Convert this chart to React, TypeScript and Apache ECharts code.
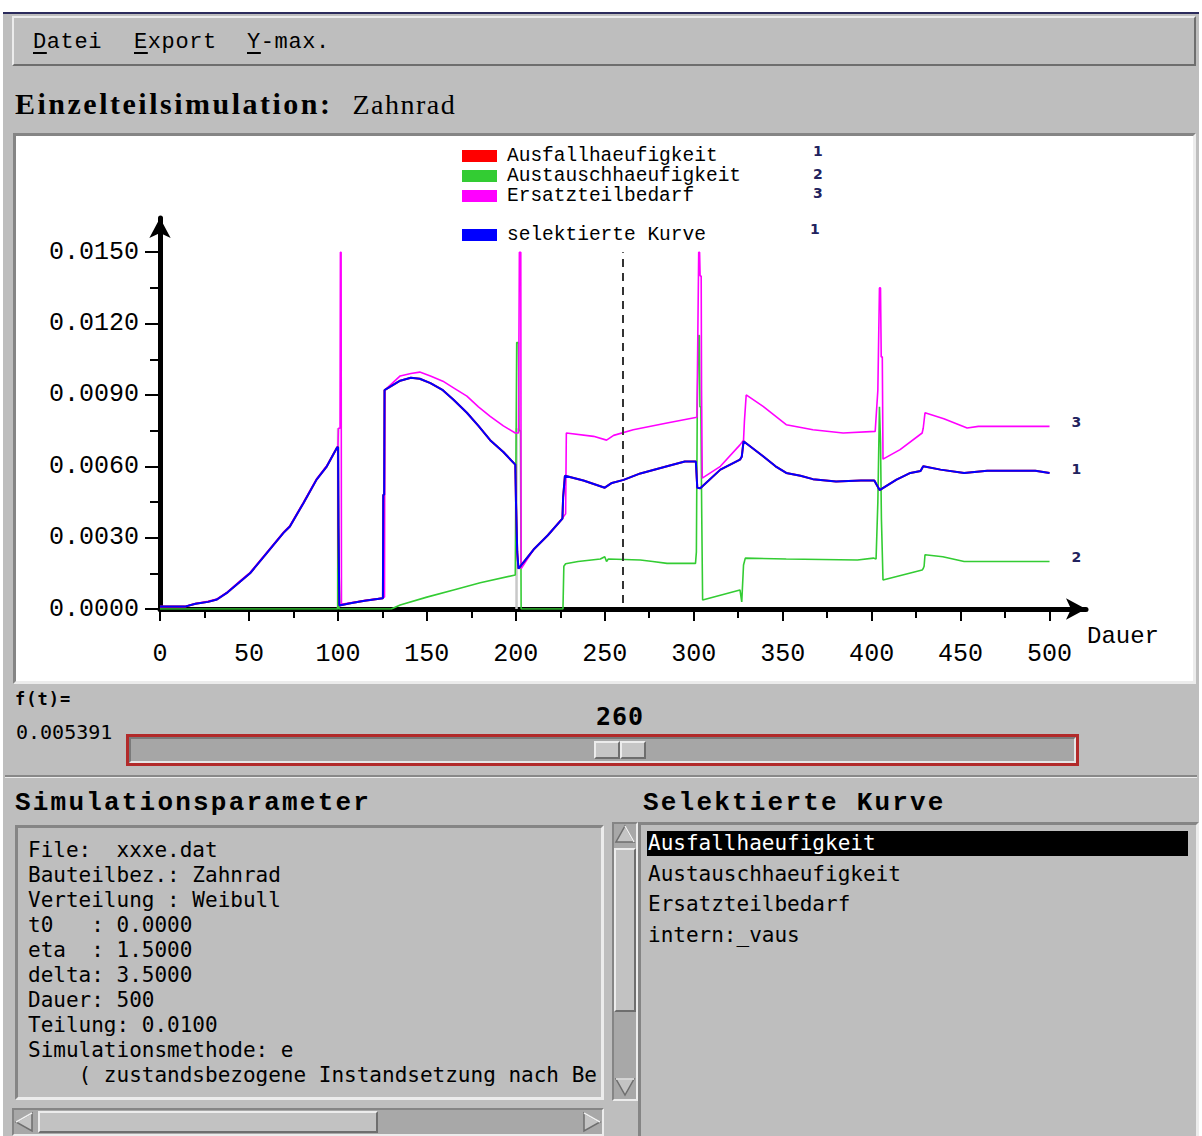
import React, { useEffect, useRef } from 'react';
import * as echarts from 'echarts';

// ---------- data ----------
const xTicks = [0, 50, 100, 150, 200, 250, 300, 350, 400, 450, 500];
const xMinorTicks = [25, 75, 125, 175, 225, 275, 325, 375, 425, 475];
const yTicks = [0, 0.003, 0.006, 0.009, 0.012, 0.015];
const yMinorTicks = [0.0015, 0.0045, 0.0075, 0.0105, 0.0135];
const X_MAX = 520.5;
const Y_MAX = 0.01644;
const cursorT = 260;
const cursorValue = '0.005391';

const legendMain = ['Ausfallhaeufigkeit', 'Austauschhaeufigkeit', 'Ersatzteilbedarf'];
const legendSelected = ['selektierte Kurve'];
const legendNumbers = ['1', '2', '3'];
const selectedNumber = '1';

const ausfall = [
  [0, 0.0001], [14, 0.0001], [20, 0.00022], [27, 0.0003], [32, 0.0004], [38, 0.0007], [45, 0.00115],
  [50.6, 0.0015], [60, 0.00235], [69.4, 0.0032], [73, 0.00347], [80.6, 0.00445], [88, 0.00544], [93.8, 0.006],
  [99.6, 0.0068], [100.1, 0.0068], [100.3, 0.0035], [100.8, 0.00015], [107, 0.00024], [115, 0.00035],
  [125.3, 0.00045], [125.5, 0.0048], [126, 0.0048], [126.2, 0.0092], [135, 0.0096], [141, 0.00972],
  [146, 0.00968], [152, 0.0095], [159, 0.0092], [165, 0.0088], [172.5, 0.00825], [179, 0.0077],
  [185.6, 0.0071], [193, 0.0066], [199.7, 0.00607], [200.1, 0.0045], [200.8, 0.0024], [201.5, 0.0017],
  [210, 0.0025], [218, 0.0031], [226.2, 0.0038], [226.6, 0.0047], [227.6, 0.0056], [238, 0.0054],
  [250, 0.0051], [254, 0.0053], [260.6, 0.00543], [270, 0.0057], [285, 0.006], [295, 0.0062],
  [301.2, 0.0062], [302, 0.0051], [303.7, 0.00508], [315, 0.00586], [326, 0.00628], [327, 0.0064],
  [328, 0.00705], [339, 0.00642], [346, 0.006], [352, 0.00572], [360, 0.0056], [367, 0.00546],
  [380, 0.00536], [394, 0.0054], [401.5, 0.0054], [403, 0.0052], [404.5, 0.005], [414, 0.00544],
  [421.8, 0.00572], [427.5, 0.0058], [429, 0.006], [438.7, 0.00586], [452, 0.00572], [465, 0.00581],
  [492, 0.00581], [500, 0.00572],
];

const austausch = [
  [0, 0], [99.9, 0], [100, 0.0068], [100.3, 0.0035], [100.5, 0], [130, 0], [135, 0.00017], [150, 0.0005],
  [165, 0.0008], [180, 0.0011], [199.7, 0.00143], [200.5, 0.0112], [201.5, 0.0112], [201.8, 0.0075],
  [202.6, 0.0075], [203, 0], [226.5, 0], [227, 0.0018], [228, 0.0019], [235, 0.002], [247.5, 0.0021],
  [250, 0.0022], [251, 0.002], [252, 0.0021], [270, 0.00206], [277, 0.002], [285, 0.00192],
  [301, 0.00192], [301.5, 0.0024], [302, 0.0085], [302.7, 0.0115], [303.2, 0.0115], [303.5, 0.0085],
  [304, 0.0085], [304.5, 0.004], [305, 0.00038], [326, 0.0008], [327, 0.0003], [328, 0.00185],
  [329, 0.00214], [352, 0.0021], [392, 0.00206], [401, 0.00214], [402.5, 0.0021], [403.5, 0.0045],
  [404.4, 0.0085], [405, 0.007], [405.5, 0.0038], [406.4, 0.00122], [428.4, 0.00164], [429, 0.0017],
  [429.5, 0.0018], [430, 0.00228], [440, 0.0022], [452, 0.002], [500, 0.002],
];

const ersatz = [
  [0, 0.0001], [14, 0.0001], [20, 0.00023], [27, 0.00032], [32, 0.00042], [38, 0.00072], [45, 0.00118],
  [50.6, 0.00153], [60, 0.00238], [69.4, 0.00323], [73, 0.0035], [80.6, 0.00448], [88, 0.00547], [93.8, 0.00603],
  [99.6, 0.0068], [100, 0.0068], [100.3, 0.0076], [101.2, 0.0076], [101.4, 0.015], [101.8, 0.015],
  [102, 0.0002], [107, 0.00026], [115, 0.00036], [125, 0.00046], [126.2, 0.0005], [126.4, 0.0092],
  [135, 0.0098], [141, 0.0099], [146, 0.00996], [152, 0.0098], [159, 0.00958], [165, 0.0093],
  [172.5, 0.00895], [179, 0.0085], [185.6, 0.0081], [193, 0.0077], [199.7, 0.0074], [201.5, 0.0074],
  [202, 0.015], [202.8, 0.015], [203, 0.0017], [210, 0.0025], [218, 0.0031], [226, 0.0038], [228, 0.004],
  [228.4, 0.0074], [243.7, 0.00726], [251, 0.0071], [255, 0.0073], [266, 0.00754], [285, 0.00782],
  [301.8, 0.00806], [302.3, 0.0115], [302.8, 0.015], [303.3, 0.015], [303.6, 0.014], [304.2, 0.014],
  [304.4, 0.0092], [304.8, 0.0055], [315, 0.006], [326, 0.0069], [328, 0.0071], [328.5, 0.0079],
  [329.5, 0.009], [339, 0.00852], [352, 0.00775], [367, 0.00754], [384, 0.0074], [402, 0.00747],
  [403.5, 0.0092], [404.4, 0.0135], [405, 0.0135], [405.4, 0.0106], [406, 0.0106], [406.4, 0.0063],
  [416, 0.0067], [428.4, 0.0074], [429, 0.0076], [430, 0.00825], [440.6, 0.008], [453.7, 0.00761],
  [460, 0.00768], [500, 0.00768],
];

const vaus = [[100.1, 0], [100.1, 0.0076], [150, null], [200.4, 0.0076], [200.4, 0]];

const menuItems = ['Datei', 'Export', 'Y-max.'];
const paramLines = [
  'File:  xxxe.dat',
  'Bauteilbez.: Zahnrad',
  'Verteilung : Weibull',
  't0   : 0.0000',
  'eta  : 1.5000',
  'delta: 3.5000',
  'Dauer: 500',
  'Teilung: 0.0100',
  'Simulationsmethode: e',
  '    ( zustandsbezogene Instandsetzung nach Be',
];
const listItems = ['Ausfallhaeufigkeit', 'Austauschhaeufigkeit', 'Ersatzteilbedarf', 'intern:_vaus'];

// ---------- styles ----------
const MONO = '"Liberation Mono", "DejaVu Sans Mono", monospace';
const COND = '"DejaVu Sans Mono", monospace';
const GRAY = '#bebebe';
const abs = (l: number, t: number, w: number, h: number): React.CSSProperties => ({
  position: 'absolute', left: l, top: t, width: w, height: h, boxSizing: 'border-box',
});
const raised: React.CSSProperties = {
  borderTop: '2px solid #ececec', borderLeft: '2px solid #ececec',
  borderBottom: '2px solid #6e6e6e', borderRight: '2px solid #6e6e6e',
};
const sunken: React.CSSProperties = {
  borderTop: '3px solid #858585', borderLeft: '3px solid #858585',
  borderBottom: '3px solid #ececec', borderRight: '3px solid #ececec',
};

function Arrow({ dir }: { dir: 'up' | 'down' | 'left' | 'right' }) {
  const pts = {
    up: '12,3 21,19 3,19',
    down: '3,4 21,4 12,20',
    left: '3,12 19,3 19,21',
    right: '21,12 5,3 5,21',
  }[dir];
  return (
    <svg width={24} height={24} style={{ display: 'block' }}>
      <polygon points={pts} fill="#c4c4c4" stroke="#6e6e6e" strokeWidth={1.5} />
      <polyline points={pts.split(' ').slice(0, 2).join(' ')} fill="none" stroke="#f0f0f0" strokeWidth={1.5} />
    </svg>
  );
}

function Chart() {
  const ref = useRef<HTMLDivElement>(null);
  useEffect(() => {
    if (!ref.current) return;
    const chart = echarts.init(ref.current, undefined, { renderer: 'svg' });
    const labelFont = { fontFamily: MONO, fontSize: 25, color: '#000' };
    const endLabel = (txt: string) => ({
      show: true, formatter: txt, distance: 22, offset: [0, -4],
      fontFamily: 'DejaVu Sans', fontWeight: 'bold', fontSize: 14, color: '#22225e',
    });
    const legendText = { fontFamily: MONO, fontSize: 19.5, color: '#000', padding: [0, 0, 0, 5] };
    const grid = { left: 144, right: 107, top: 82, bottom: 72, outerBoundsMode: 'none' };
    chart.setOption({
      animation: false,
      backgroundColor: '#ffffff',
      grid: [grid, { ...grid }],
      legend: [
        {
          data: legendMain, orient: 'vertical', left: 446, top: 10, padding: 0, itemGap: 0,
          itemWidth: 35, itemHeight: 12, icon: 'rect', selectedMode: false, textStyle: legendText,
        },
        {
          data: legendSelected, orient: 'vertical', left: 446, top: 89, padding: 0, itemGap: 0,
          itemWidth: 35, itemHeight: 12, icon: 'rect', selectedMode: false, textStyle: legendText,
        },
      ],
      graphic: [
        ...legendNumbers.map((n, i) => ({
          type: 'text', left: 797, top: [8, 31, 50][i],
          style: { text: n, font: 'bold 14px "DejaVu Sans"', fill: '#22225e' },
        })),
        {
          type: 'text', left: 794, top: 86,
          style: { text: selectedNumber, font: 'bold 14px "DejaVu Sans"', fill: '#22225e' },
        },
      ],
      xAxis: [
        {
          type: 'value', gridIndex: 0, min: 0, max: X_MAX, name: 'Dauer', nameLocation: 'end', nameGap: 1,
          nameTextStyle: { ...labelFont, fontSize: 24, align: 'left', verticalAlign: 'top', padding: [15, 0, 0, 0] },
          splitLine: { show: false },
          axisLine: { onZero: false, symbol: ['none', 'arrow'], symbolSize: [16, 20], lineStyle: { color: '#000', width: 5 } },
          axisTick: { customValues: xTicks, length: 12, lineStyle: { color: '#000', width: 2 } },
          axisLabel: { customValues: xTicks, margin: 33, ...labelFont, formatter: (v: number) => String(v) },
        },
        {
          type: 'value', gridIndex: 1, min: 0, max: X_MAX,
          splitLine: { show: false }, axisLine: { show: false }, axisLabel: { show: false },
          axisTick: { customValues: xMinorTicks, length: 9, lineStyle: { color: '#000', width: 2 } },
        },
      ],
      yAxis: [
        {
          type: 'value', gridIndex: 0, min: 0, max: Y_MAX,
          splitLine: { show: false },
          axisLine: { onZero: false, symbol: ['none', 'arrow'], symbolSize: [16, 20], lineStyle: { color: '#000', width: 5 } },
          axisTick: { customValues: yTicks, length: 15, lineStyle: { color: '#000', width: 2 } },
          axisLabel: { customValues: yTicks, margin: 21, ...labelFont, formatter: (v: number) => v.toFixed(4) },
        },
        {
          type: 'value', gridIndex: 1, min: 0, max: Y_MAX,
          splitLine: { show: false }, axisLine: { show: false }, axisLabel: { show: false },
          axisTick: { customValues: yMinorTicks, length: 10, lineStyle: { color: '#000', width: 2 } },
        },
      ],
      series: [
        {
          name: 'intern:_vaus', type: 'line', data: vaus, symbol: 'none', connectNulls: false,
          lineStyle: { color: '#c8c8c8', width: 2.5 }, itemStyle: { color: '#c8c8c8' }, z: 1,
        },
        {
          name: 'Austauschhaeufigkeit', type: 'line', data: austausch, symbol: 'none',
          lineStyle: { color: '#33cc33', width: 1.6 }, itemStyle: { color: '#33cc33' }, endLabel: endLabel('2'), z: 2,
        },
        {
          name: 'Ersatzteilbedarf', type: 'line', data: ersatz, symbol: 'none',
          lineStyle: { color: '#ff00ff', width: 1.6 }, itemStyle: { color: '#ff00ff' }, endLabel: endLabel('3'), z: 3,
        },
        {
          name: 'Ausfallhaeufigkeit', type: 'line', data: ausfall, symbol: 'none',
          lineStyle: { color: '#ff0000', width: 2 }, itemStyle: { color: '#ff0000' }, z: 4,
        },
        {
          name: 'selektierte Kurve', type: 'line', data: ausfall, symbol: 'none',
          lineStyle: { color: '#0000ff', width: 2 }, itemStyle: { color: '#0000ff' }, endLabel: endLabel('1'), z: 5,
          markLine: {
            silent: true, symbol: ['none', 'none'], label: { show: false },
            lineStyle: { type: [8, 6], color: '#333', width: 2 },
            data: [[{ coord: [cursorT, 0.00025] }, { coord: [cursorT, 0.015] }]],
          },
        },
      ],
    });
    return () => chart.dispose();
  }, []);
  return <div ref={ref} style={{ ...abs(16, 136, 1177, 545) }} />;
}

export default function App() {
  const menuX = [33, 134, 247];
  return (
    <div style={{ position: 'fixed', left: 0, top: 0, width: 1202, height: 1136, background: '#fff', overflow: 'hidden' }}>
      <div style={{ ...abs(3, 12, 1196, 1124), background: GRAY, borderTop: '2px solid #2b2b5c' }} />
      {/* menu bar */}
      <div style={{ ...abs(12, 16, 1184, 50), ...raised, background: GRAY }} />
      {menuItems.map((m, i) => (
        <div key={m} style={{ position: 'absolute', left: menuX[i], top: 30, fontFamily: MONO, fontSize: 22, lineHeight: '26px', color: '#000', whiteSpace: 'pre', letterSpacing: 0.6 }}>
          <span style={{ textDecoration: 'underline', textUnderlineOffset: 4 }}>{m[0]}</span>{m.slice(1)}
        </div>
      ))}
      {/* title */}
      <div style={{ position: 'absolute', left: 15, top: 86, lineHeight: '36px', color: '#000', whiteSpace: 'pre' }}>
        <span style={{ fontFamily: '"Liberation Serif", serif', fontWeight: 'bold', fontSize: 30, letterSpacing: 2.5 }}>Einzelteilsimulation:</span>
        <span style={{ fontFamily: '"Liberation Serif", serif', fontSize: 28, marginLeft: 20, letterSpacing: 1.5 }}>Zahnrad</span>
      </div>
      {/* chart frame */}
      <div style={{ ...abs(13, 133, 1183, 551), ...sunken, background: '#fff' }} />
      <Chart />
      {/* f(t) */}
      <div style={{ position: 'absolute', left: 15, top: 689, fontFamily: COND, fontWeight: 'bold', fontSize: 17, color: '#000', letterSpacing: 1 }}>f(t)=</div>
      <div style={{ position: 'absolute', left: 16, top: 720, fontFamily: COND, fontSize: 20, color: '#000' }}>{cursorValue}</div>
      <div style={{ position: 'absolute', left: 596, top: 702, fontFamily: COND, fontWeight: 'bold', fontSize: 25, color: '#000', letterSpacing: 1 }}>{String(cursorT)}</div>
      {/* slider */}
      <div style={{ ...abs(126, 734, 953, 32), border: '3px solid #b22a2a', background: '#a6a6a6' }}>
        <div style={{ ...abs(0, 0, 947, 26), borderTop: '2px solid #7a7a7a', borderLeft: '2px solid #7a7a7a', borderBottom: '2px solid #e6e6e6', borderRight: '2px solid #e6e6e6' }} />
      </div>
      <div style={{ ...abs(594, 741, 26, 18), ...raised, background: '#c6c6c6' }} />
      <div style={{ ...abs(620, 741, 26, 18), ...raised, background: '#c6c6c6' }} />
      {/* separator */}
      <div style={{ ...abs(5, 775, 1192, 2), background: '#888' }} />
      <div style={{ ...abs(5, 777, 1192, 1), background: '#ececec' }} />
      {/* section titles */}
      <div style={{ position: 'absolute', left: 15, top: 788, fontFamily: MONO, fontWeight: 'bold', fontSize: 26, letterSpacing: 2.2, color: '#000' }}>Simulationsparameter</div>
      <div style={{ position: 'absolute', left: 643, top: 788, fontFamily: MONO, fontWeight: 'bold', fontSize: 26, letterSpacing: 2.2, color: '#000' }}>Selektierte Kurve</div>
      {/* parameter box */}
      <div style={{ ...abs(15, 825, 589, 275), ...sunken, background: GRAY }} />
      {paramLines.map((l, i) => (
        <div key={i} style={{ position: 'absolute', left: 28, top: 838 + i * 25, fontFamily: COND, fontSize: 21, lineHeight: '25px', color: '#000', whiteSpace: 'pre' }}>{l}</div>
      ))}
      {/* vertical scrollbar */}
      <div style={{ ...abs(612, 822, 26, 279), ...sunken, borderWidth: 2, background: '#a8a8a8' }} />
      <div style={{ position: 'absolute', left: 613, top: 823 }}><Arrow dir="up" /></div>
      <div style={{ ...abs(614, 848, 22, 164), ...raised, background: '#c2c2c2' }} />
      <div style={{ position: 'absolute', left: 613, top: 1075 }}><Arrow dir="down" /></div>
      {/* horizontal scrollbar */}
      <div style={{ ...abs(12, 1108, 592, 28), ...sunken, borderWidth: 2, background: '#a8a8a8' }} />
      <div style={{ position: 'absolute', left: 13, top: 1110 }}><Arrow dir="left" /></div>
      <div style={{ ...abs(38, 1111, 340, 22), ...raised, background: '#c2c2c2' }} />
      <div style={{ position: 'absolute', left: 579, top: 1110 }}><Arrow dir="right" /></div>
      {/* list box */}
      <div style={{ ...abs(638, 822, 561, 320), ...sunken, background: GRAY }} />
      <div style={{ ...abs(647, 831, 541, 25), background: '#000' }} />
      {listItems.map((it, i) => (
        <div key={it} style={{ position: 'absolute', left: 648, top: 831 + i * 30.5, fontFamily: COND, fontSize: 21, lineHeight: '25px', color: i === 0 ? '#fff' : '#000', whiteSpace: 'pre' }}>{it}</div>
      ))}
    </div>
  );
}
